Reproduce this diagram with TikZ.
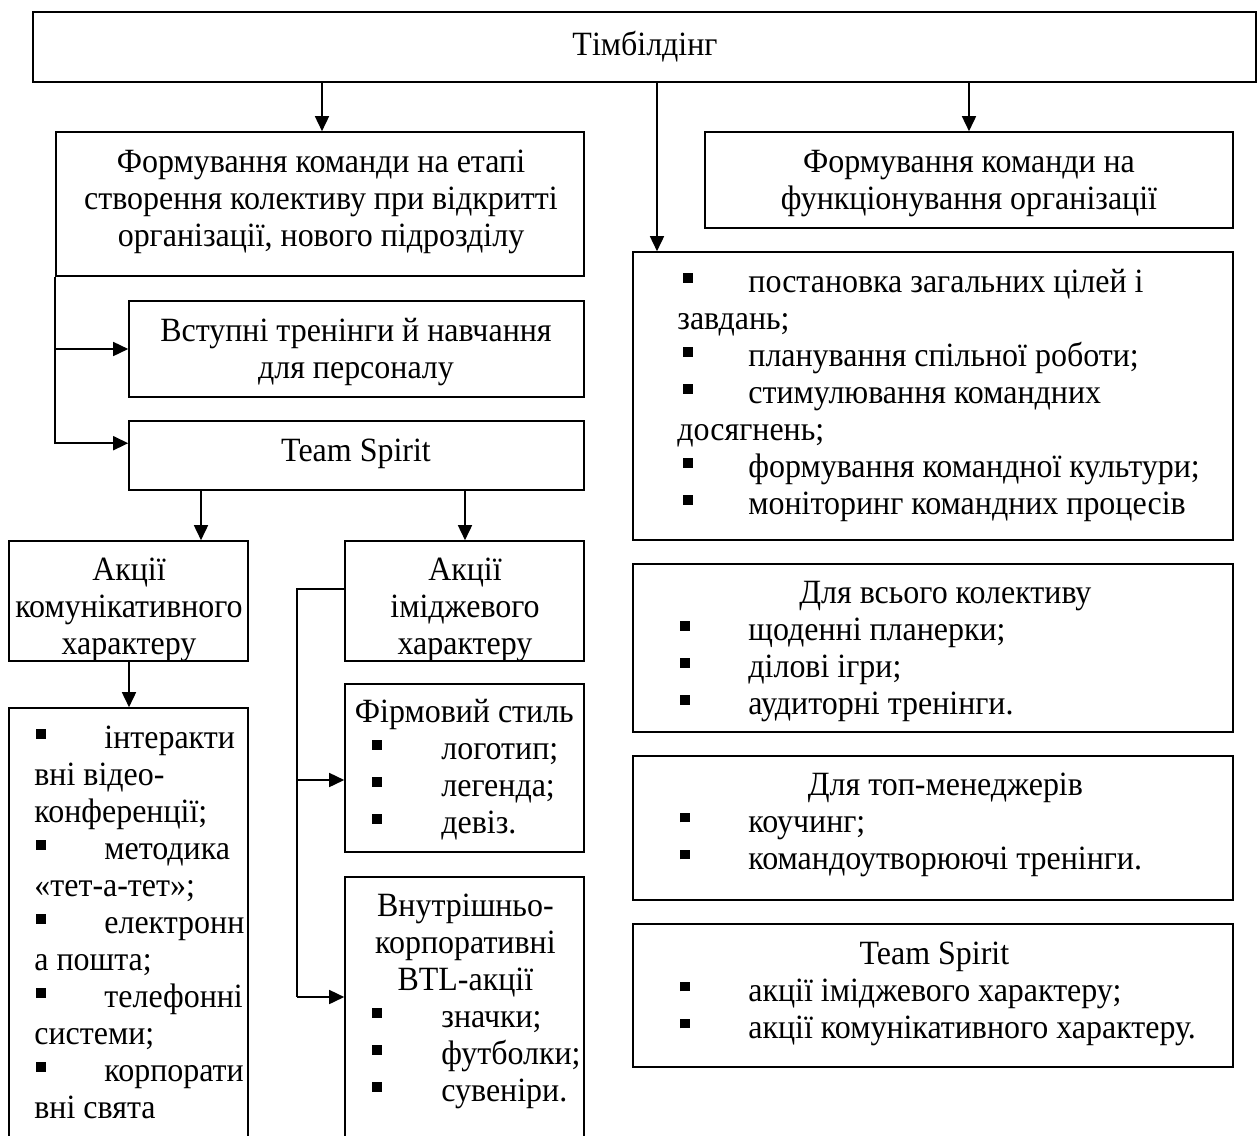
\documentclass[tikz,border=0pt]{standalone}
\usepackage{fontspec}
\setmainfont{Liberation Serif}[FakeStretch=0.94]
\usetikzlibrary{arrows.meta,fit,calc}
\newcommand\sqb{\rule[5pt]{4.8pt}{4.8pt}}
\newcommand\fs{\fontsize{17pt}{18.5pt}\selectfont}
\newcommand\bul[2]{\strut\hspace*{#1}\makebox[#2][l]{\sqb}}
\begin{document}
\begin{tikzpicture}[x=0.5pt,y=-0.5pt,
  box/.style={draw, line width=0.8pt, inner sep=0pt},
  txt/.style={inner sep=0pt, font=\fs, align=center},
  ltxt/.style={inner sep=0pt, font=\fs, align=left, anchor=west},
  arr/.style={line width=0.8pt, -{Triangle[length=7.5pt,width=7pt]}},
  ln/.style={line width=0.8pt}]
\path[use as bounding box] (0,0) rectangle (1257,1135);
\clip (0,0) rectangle (1257,1135);

% boxes
\node[box, fit={(33,12) (1256,82)}] (top) {};
\node[txt] (topt) at (645,48) {\strut Тімбілдінг};

\node[box, fit={(56,132) (584,276)}] (f1) {};
\node[txt] (f1t) at (321,202) {\strut Формування команди на етапі\\\strut створення колективу при відкритті\\\strut організації, нового підрозділу};

\node[box, fit={(129,301) (584,397)}] (f2) {};
\node[txt] (f2t) at (356,353) {\strut Вступні тренінги й навчання\\\strut для персоналу};

\node[box, fit={(129,421) (584,490)}] (ts) {};
\node[txt] (tst) at (356,454) {\strut Team Spirit};

\node[box, fit={(9,541) (248,661)}] (ak) {};
\node[txt] (akt) at (129,610) {\strut Акції\\\strut комунікативного\\\strut характеру};

\node[box, fit={(345,541) (584,661)}] (ai) {};
\node[txt] (ait) at (465,610) {\strut Акції\\\strut іміджевого\\\strut характеру};

\node[box, fit={(9,708) (248,1160)}] (lst) {};
\node[ltxt] (lstt) at (34,926.5) {\bul{1pt}{34pt}інтеракти\\
\strut вні відео-\\
\strut конференції;\\
\bul{1pt}{34pt}методика\\
\strut «тет-а-тет»;\\
\bul{1pt}{34pt}електронн\\
\strut а пошта;\\
\bul{1pt}{34pt}телефонні\\
\strut системи;\\
\bul{1pt}{34pt}корпорати\\
\strut вні свята};

\node[box, fit={(345,684) (584,852)}] (fs) {};
\node[ltxt] (fst) at (372,771) {\strut\makebox[92pt][c]{Фірмовий стиль}\\
\bul{0pt}{34.5pt}логотип;\\
\bul{0pt}{34.5pt}легенда;\\
\bul{0pt}{34.5pt}девіз.};

\node[box, fit={(345,877) (584,1160)}] (btl) {};
\node[ltxt] (btlt) at (372,1002) {\strut\makebox[93pt][c]{Внутрішньо-}\\
\strut\makebox[93pt][c]{корпоративні}\\
\strut\makebox[93pt][c]{BTL-акції}\\
\bul{0pt}{34.5pt}значки;\\
\bul{0pt}{34.5pt}футболки;\\
\bul{0pt}{34.5pt}сувеніри.};

\node[box, fit={(705,132) (1233,228)}] (r1) {};
\node[txt] (r1t) at (969,184) {\strut Формування команди на\\\strut функціонування організації};

\node[box, fit={(633,252) (1233,540)}] (r2) {};
\node[ltxt] (r2t) at (677,396.5) {\bul{3pt}{32.5pt}постановка загальних цілей і\\
\strut завдань;\\
\bul{3pt}{32.5pt}планування спільної роботи;\\
\bul{3pt}{32.5pt}стимулювання командних\\
\strut досягнень;\\
\bul{3pt}{32.5pt}формування командної культури;\\
\bul{3pt}{32.5pt}моніторинг командних процесів};

\node[box, fit={(633,564) (1233,732)}] (r3) {};
\node[ltxt] (r3t) at (680,652) {\strut\makebox[265pt][c]{Для всього колективу}\\
\bul{0pt}{34pt}щоденні планерки;\\
\bul{0pt}{34pt}ділові ігри;\\
\bul{0pt}{34pt}аудиторні тренінги.};

\node[box, fit={(633,756) (1233,900)}] (r4) {};
\node[ltxt] (r4t) at (680,825) {\strut\makebox[265pt][c]{Для топ-менеджерів}\\
\bul{0pt}{34pt}коучинг;\\
\bul{0pt}{34pt}командоутворюючі тренінги.};

\node[box, fit={(633,924) (1233,1067)}] (r5) {};
\node[ltxt] (r5t) at (680,994) {\strut\makebox[254pt][c]{Team Spirit}\\
\bul{0pt}{34pt}акції іміджевого характеру;\\
\bul{0pt}{34pt}акції комунікативного характеру.};

% connectors
\coordinate (c1) at (322,0);
\coordinate (c2) at (657,0);
\coordinate (c3) at (969,0);
\coordinate (c4) at (201,0);
\coordinate (c5) at (465,0);
\coordinate (c6) at (129,0);
\draw[arr] (top.south -| c1) -- (f1.north -| c1);
\draw[arr] (top.south -| c2) -- (r2.north -| c2);
\draw[arr] (top.south -| c3) -- (r1.north -| c3);
\draw[arr] (f1.south west) |- (f2.west);
\draw[arr] (f1.south west) |- ([yshift=-11.5pt]ts.north west);
\draw[arr] (ts.south -| c4) -- (ak.north -| c4);
\draw[arr] (ts.south -| c5) -- (ai.north -| c5);
\draw[arr] (ak.south -| c6) -- (lst.north -| c6);
\coordinate (j0) at (297,589);
\coordinate (j1) at (297,780);
\coordinate (j2) at (297,997);
\draw[ln] (ai.west |- j0) -- (j0) -- (j2);
\draw[arr] (j1) -- (fs.west |- j1);
\draw[arr] (j2) -- (btl.west |- j2);
\end{tikzpicture}
\end{document}
